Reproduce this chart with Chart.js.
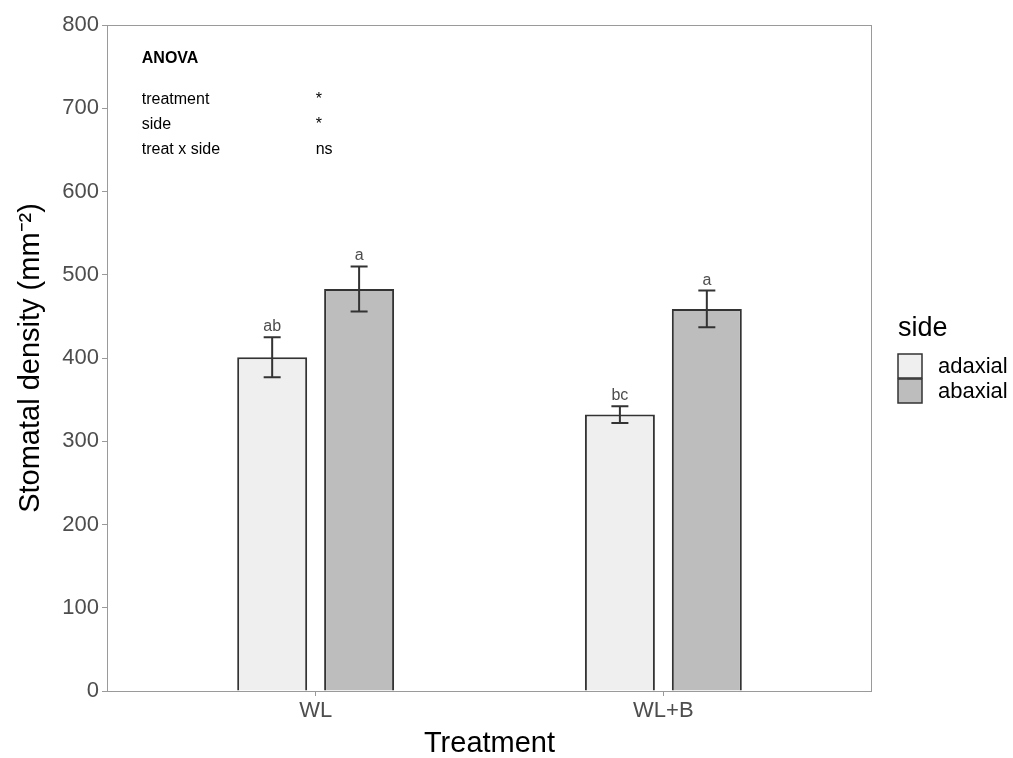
<!DOCTYPE html>
<html>
<head>
<meta charset="utf-8">
<script src="https://cdn.jsdelivr.net/npm/chart.js@4"></script>
<style>
  html, body { margin: 0; padding: 0; background: #fff; }
  #wrap { width: 1013px; height: 758px; }
</style>
</head>
<body>
<div id="wrap"><canvas id="densityChart"></canvas></div>
<script>
const treatments = ["WL", "WL+B"];
const sides = ["adaxial", "abaxial"];
const adaxialMean = [401, 332];
const adaxialSe = [24, 10];
const abaxialMean = [483, 459];
const abaxialSe = [27, 22];
const adaxialLetters = ["ab", "bc"];
const abaxialLetters = ["a", "a"];
const yTicks = [0, 100, 200, 300, 400, 500, 600, 700, 800];

const anovaTerms = ["treatment", "side", "treat x side"];
const anovaSig = ["*", "*", "ns"];
const anovaY = [710, 680, 650];

const sideColors = ["#efefef", "#bdbdbd"];
const edgeColor = "#333333";
const tickColor = "#4d4d4d";
const frameColor = "#9a9a9a";
const family = '"Liberation Sans", Arial, sans-serif';

Chart.defaults.font.family = family;

const toPoints = (means) => means.map((v, i) => ({ x: i + 1, y: v }));

// whiskers (mean +/- se) and significance letters above them
const errorBars = {
  id: "errorBars",
  afterDatasetsDraw(chart) {
    const { ctx, scales: { y } } = chart;
    ctx.save();
    chart.data.datasets.forEach((ds, d) => {
      const meta = chart.getDatasetMeta(d);
      meta.data.forEach((bar, i) => {
        const mean = ds.data[i].y;
        const top = y.getPixelForValue(mean + ds.se[i]);
        const bottom = y.getPixelForValue(mean - ds.se[i]);
        ctx.strokeStyle = edgeColor;
        ctx.lineWidth = 2;
        ctx.beginPath();
        ctx.moveTo(bar.x, top);
        ctx.lineTo(bar.x, bottom);
        ctx.moveTo(bar.x - 8.5, top);
        ctx.lineTo(bar.x + 8.5, top);
        ctx.moveTo(bar.x - 8.5, bottom);
        ctx.lineTo(bar.x + 8.5, bottom);
        ctx.stroke();

        ctx.fillStyle = tickColor;
        ctx.font = "16px " + family;
        ctx.textAlign = "center";
        ctx.textBaseline = "alphabetic";
        ctx.fillText(ds.letters[i], bar.x, top - 6);
      });
    });
    ctx.restore();
  },
};

// panel frame, ANOVA summary and the fill legend on the right
const decorations = {
  id: "decorations",
  afterDraw(chart) {
    const { ctx, chartArea: area, scales: { x, y } } = chart;
    ctx.save();
    ctx.strokeStyle = frameColor;
    ctx.lineWidth = 1;
    ctx.strokeRect(area.left + 0.5, area.top + 0.5, area.width - 1, area.height);

    ctx.fillStyle = "#000";
    ctx.textBaseline = "middle";
    ctx.textAlign = "left";
    ctx.font = "bold 16px " + family;
    ctx.fillText("ANOVA", x.getPixelForValue(0.5), y.getPixelForValue(760));
    ctx.font = "16px " + family;
    anovaTerms.forEach((term, i) => {
      const py = y.getPixelForValue(anovaY[i]);
      ctx.fillText(term, x.getPixelForValue(0.5), py);
      ctx.fillText(anovaSig[i], x.getPixelForValue(1), py);
    });

    const lx = area.right + 26;
    const midY = (area.top + area.bottom) / 2;
    const boxTop = midY - 4;
    const box = 24;
    ctx.textBaseline = "alphabetic";
    ctx.font = "27px " + family;
    ctx.fillText("side", lx, boxTop - 18);
    ctx.font = "22px " + family;
    ctx.textBaseline = "middle";
    chart.data.datasets.forEach((ds, i) => {
      const by = boxTop + i * (box + 1);
      ctx.fillStyle = ds.backgroundColor;
      ctx.fillRect(lx, by, box, box);
      ctx.strokeStyle = edgeColor;
      ctx.lineWidth = 1.5;
      ctx.strokeRect(lx, by, box, box);
      ctx.fillStyle = "#000";
      ctx.fillText(ds.label, lx + 40, by + box / 2 + 1);
    });
    ctx.restore();
  },
};

new Chart(document.getElementById("densityChart"), {
  type: "bar",
  data: {
    datasets: [
      {
        label: sides[0],
        data: toPoints(adaxialMean),
        se: adaxialSe,
        letters: adaxialLetters,
        backgroundColor: sideColors[0],
        borderColor: edgeColor,
        borderWidth: 2,
      },
      {
        label: sides[1],
        data: toPoints(abaxialMean),
        se: abaxialSe,
        letters: abaxialLetters,
        backgroundColor: sideColors[1],
        borderColor: edgeColor,
        borderWidth: 2,
      },
    ],
  },
  options: {
    responsive: true,
    maintainAspectRatio: false,
    animation: false,
    categoryPercentage: 0.5,
    barPercentage: 0.805,
    layout: { padding: { top: 25, right: 141, bottom: 0, left: 0 } },
    plugins: {
      legend: { display: false },
      tooltip: { enabled: false },
    },
    scales: {
      x: {
        type: "linear",
        min: 0.4,
        max: 2.6,
        offset: false,
        afterBuildTicks: (scale) => {
          scale.ticks = treatments.map((_, i) => ({ value: i + 1 }));
        },
        afterFit: (scale) => {
          scale.height = 67;
        },
        border: { display: false },
        grid: {
          offset: false,
          drawOnChartArea: false,
          drawTicks: true,
          tickLength: 5,
          color: frameColor,
        },
        ticks: {
          autoSkip: false,
          maxRotation: 0,
          padding: 2,
          color: tickColor,
          font: { size: 22 },
          callback: (value) => treatments[value - 1],
        },
        title: {
          display: true,
          text: "Treatment",
          color: "#000",
          font: { size: 29, lineHeight: 1 },
          padding: { top: 0, bottom: 0 },
        },
      },
      y: {
        min: 0,
        max: 800,
        afterBuildTicks: (scale) => {
          scale.ticks = yTicks.map((v) => ({ value: v }));
        },
        afterFit: (scale) => {
          scale.width = 107;
        },
        border: { display: false },
        grid: {
          drawOnChartArea: false,
          drawTicks: true,
          tickLength: 5,
          color: frameColor,
        },
        ticks: {
          padding: 3,
          color: tickColor,
          font: { size: 22 },
        },
        title: {
          display: true,
          text: "Stomatal density (mm⁻²)",
          color: "#000",
          font: { size: 29, lineHeight: 1 },
          padding: { top: 16, bottom: 0 },
        },
      },
    },
  },
  plugins: [errorBars, decorations],
});
</script>
</body>
</html>
